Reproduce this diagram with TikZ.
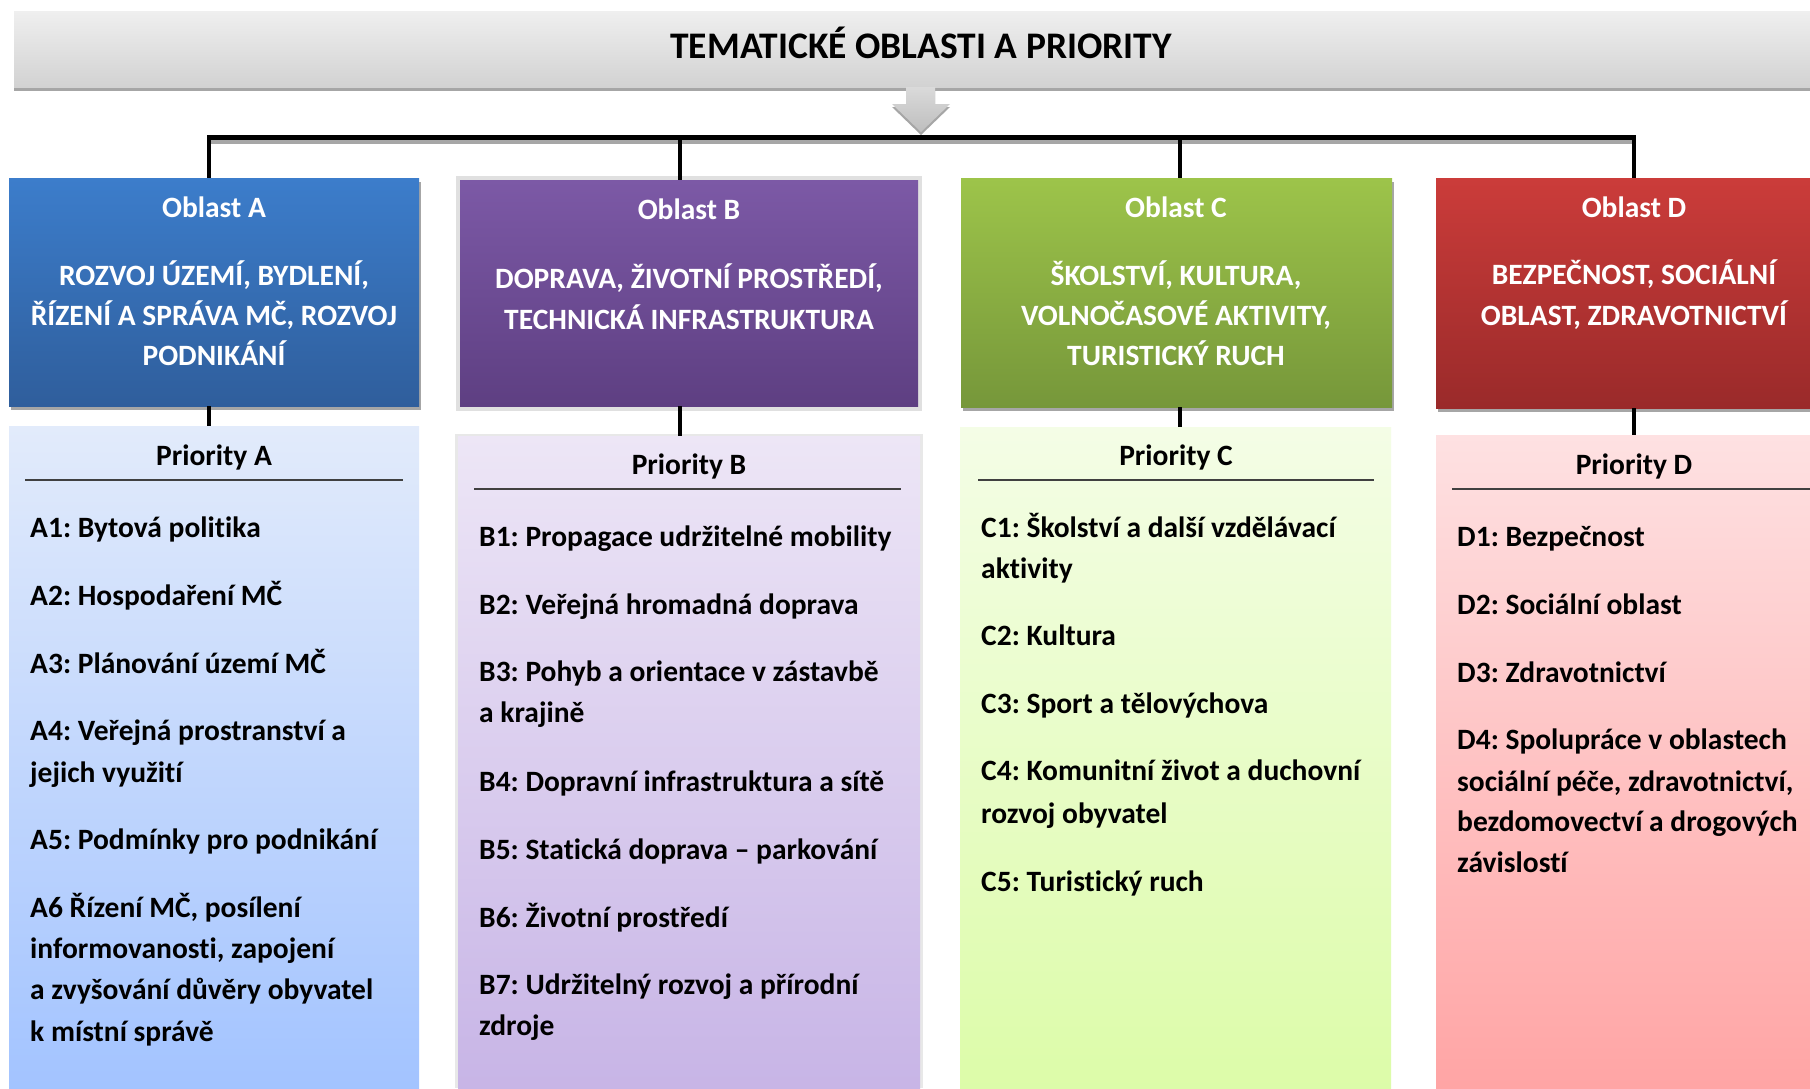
\documentclass[tikz,border=0pt]{standalone}
\usepackage{fontspec}
\setmainfont{Carlito}[Ligatures=NoCommon]
\frenchspacing
\definecolor{hdT}{HTML}{EFEFEF}
\definecolor{hdB}{HTML}{D2D2D2}
\definecolor{shd}{HTML}{A6A6A6}
\definecolor{arrT}{HTML}{DADADA}
\definecolor{arrB}{HTML}{BEBEBE}
\definecolor{oaT}{HTML}{3C7DCB}
\definecolor{oaB}{HTML}{2F5E9C}
\definecolor{obT}{HTML}{7C59A6}
\definecolor{obB}{HTML}{5E3F82}
\definecolor{ocT}{HTML}{9DC44A}
\definecolor{ocB}{HTML}{76973A}
\definecolor{odT}{HTML}{CB3C3A}
\definecolor{odB}{HTML}{9A2A2A}
\definecolor{paT}{HTML}{E2EBFB}
\definecolor{paB}{HTML}{A2C3FF}
\definecolor{pbT}{HTML}{EDE6F6}
\definecolor{pbB}{HTML}{C7B4E6}
\definecolor{pcT}{HTML}{F4FDE6}
\definecolor{pcB}{HTML}{DCFCA8}
\definecolor{pdT}{HTML}{FEE1E2}
\definecolor{pdB}{HTML}{FFA4A4}
\begin{document}
\begin{tikzpicture}[x=1pt,y=-1pt,
  box/.style={rectangle, anchor=north west, inner sep=0pt, outer sep=0pt, draw=none},
  itm/.style={anchor=base west, inner sep=0pt, font=\fontsize{29.5}{35}\selectfont\bfseries},
  hd/.style={anchor=base, inner sep=0pt, font=\fontsize{29.5}{35}\selectfont\bfseries},
  wt/.style={anchor=base, inner sep=0pt, text=white, font=\fontsize{29.5}{35}\selectfont\bfseries},
  conn/.style={line width=4pt, black},
  rulel/.style={line width=1.5pt, black!75}]
\useasboundingbox (0,0) rectangle (1810,1088);
\clip (0,0) rectangle (1810,1088);
\fill[white] (0,0) rectangle (1810,1088);

% header
\fill[shd] (14,87) rectangle (1828,91);
\node[box, minimum width=1814pt, minimum height=76pt, top color=hdT, bottom color=hdB] (hdr) at (14,11) {};
\node[anchor=base, inner sep=0pt, font=\fontsize{37.5}{42}\selectfont\bfseries] (title) at (921,58) {TEMATICKÉ OBLASTI A PRIORITY};

% block arrow
\fill[shd] (906,90) -- (935,90) -- (935,107) -- (950,107) -- (921,135) -- (892,107) -- (906,107) -- cycle;
\shade[top color=arrT, bottom color=arrB] (906,87) -- (935,87) -- (935,104) -- (950,104) -- (921,132) -- (892,104) -- (906,104) -- cycle;

% junctions
\coordinate (jA) at (209,137.5);
\coordinate (jB) at (680,137.5);
\coordinate (jC) at (1180,137.5);
\coordinate (jD) at (1634,137.5);
\draw[line width=4pt, shd] ([yshift=-4.5pt]jA) -- ([yshift=-4.5pt]jD);
\draw[line width=5pt, black] ([xshift=-2pt]jA) -- ([xshift=2pt]jD);

% shadows of boxes
\fill[shd] (11,182) rectangle (421,410);
\fill[black!12] (456,176) rectangle (922,411);
\fill[shd] (963,182) rectangle (1394,411);
\fill[shd] (1438,182) rectangle (1834,412);
\fill[black!9] (455,434) rectangle (923,1088);

% oblast boxes
\node[box, minimum width=410pt, minimum height=228pt, top color=oaT, bottom color=oaB] (oa) at (9,178) {};
\node[box, minimum width=458pt, minimum height=226pt, top color=obT, bottom color=obB] (ob) at (460,180) {};
\node[box, minimum width=431pt, minimum height=229pt, top color=ocT, bottom color=ocB] (oc) at (961,178) {};
\node[box, minimum width=396pt, minimum height=230pt, top color=odT, bottom color=odB] (od) at (1436,178) {};

% priority boxes
\node[box, minimum width=410pt, minimum height=670pt, top color=paT, bottom color=paB] (pa) at (9,426) {};
\node[box, minimum width=462pt, minimum height=660pt, top color=pbT, bottom color=pbB] (pb) at (458,436) {};
\node[box, minimum width=431pt, minimum height=669pt, top color=pcT, bottom color=pcB] (pc) at (960,427) {};
\node[box, minimum width=396pt, minimum height=661pt, top color=pdT, bottom color=pdB] (pd) at (1436,435) {};

% connectors
\draw[conn] (jA) -- (jA |- oa.north);
\draw[conn] (jB) -- (jB |- ob.north);
\draw[conn] (jC) -- (jC |- oc.north);
\draw[conn] (jD) -- (jD |- od.north);
\draw[conn] (oa.south -| jA) -- (pa.north -| jA);
\draw[conn] (ob.south -| jB) -- (pb.north -| jB);
\draw[conn] (oc.south -| jC) -- (pc.north -| jC);
\draw[conn] (od.south -| jD) -- (pd.north -| jD);

% oblast texts
\node[wt] (oaT) at (214,217) {Oblast A};
\node[wt] (oaS1) at (214,285) {ROZVOJ ÚZEMÍ, BYDLENÍ,};
\node[wt] (oaS2) at (214,325) {ŘÍZENÍ A SPRÁVA MČ, ROZVOJ};
\node[wt] (oaS3) at (214,365) {PODNIKÁNÍ};

\node[wt] (obT) at (689,219) {Oblast B};
\node[wt] (obS1) at (689,288) {DOPRAVA, ŽIVOTNÍ PROSTŘEDÍ,};
\node[wt] (obS2) at (689,329) {TECHNICKÁ INFRASTRUKTURA};

\node[wt] (ocT) at (1176,217) {Oblast C};
\node[wt] (ocS1) at (1176,285) {ŠKOLSTVÍ, KULTURA,};
\node[wt] (ocS2) at (1176,325) {VOLNOČASOVÉ AKTIVITY,};
\node[wt] (ocS3) at (1176,365) {TURISTICKÝ RUCH};

\node[wt] (odT) at (1634,217) {Oblast D};
\node[wt] (odS1) at (1634,284) {BEZPEČNOST, SOCIÁLNÍ};
\node[wt] (odS2) at (1634,325) {OBLAST, ZDRAVOTNICTVÍ};

% priority headings and rules
\node[hd] (paH) at (214,465) {Priority A};
\draw[rulel] (25,480) -- (403,480);
\node[hd] (pbH) at (689,474) {Priority B};
\draw[rulel] (474,489) -- (901,489);
\node[hd] (pcH) at (1176,465) {Priority C};
\draw[rulel] (978,480) -- (1374,480);
\node[hd] (pdH) at (1634,474) {Priority D};
\draw[rulel] (1452,489) -- (1816,489);

% items A
\node[itm] (a1) at (30,537) {A1: Bytová politika};
\node[itm] (a2) at (30,605) {A2: Hospodaření MČ};
\node[itm] (a3) at (30,673) {A3: Plánování území MČ};
\node[itm] (a4a) at (30,740) {A4: Veřejná prostranství a};
\node[itm] (a4b) at (30,782) {jejich využití};
\node[itm] (a5) at (30,849) {A5: Podmínky pro podnikání};
\node[itm] (a6a) at (30,917) {A6 Řízení MČ, posílení};
\node[itm] (a6b) at (30,958) {informovanosti, zapojení};
\node[itm] (a6c) at (30,999) {a zvyšování důvěry obyvatel};
\node[itm] (a6d) at (30,1041) {k místní správě};

% items B
\node[itm] (b1) at (479,546) {B1: Propagace udržitelné mobility};
\node[itm] (b2) at (479,614) {B2: Veřejná hromadná doprava};
\node[itm] (b3a) at (479,681) {B3: Pohyb a orientace v zástavbě};
\node[itm] (b3b) at (479,722) {a krajině};
\node[itm] (b4) at (479,791) {B4: Dopravní infrastruktura a sítě};
\node[itm] (b5) at (479,859) {B5: Statická doprava – parkování};
\node[itm] (b6) at (479,927) {B6: Životní prostředí};
\node[itm] (b7a) at (479,994) {B7: Udržitelný rozvoj a přírodní};
\node[itm] (b7b) at (479,1035) {zdroje};

% items C
\node[itm] (c1a) at (981,537) {C1: Školství a další vzdělávací};
\node[itm] (c1b) at (981,578) {aktivity};
\node[itm] (c2) at (981,645) {C2: Kultura};
\node[itm] (c3) at (981,713) {C3: Sport a tělovýchova};
\node[itm] (c4a) at (981,780) {C4: Komunitní život a duchovní};
\node[itm] (c4b) at (981,823) {rozvoj obyvatel};
\node[itm] (c5) at (981,891) {C5: Turistický ruch};

% items D
\node[itm] (d1) at (1457,546) {D1: Bezpečnost};
\node[itm] (d2) at (1457,614) {D2: Sociální oblast};
\node[itm] (d3) at (1457,682) {D3: Zdravotnictví};
\node[itm] (d4a) at (1457,749) {D4: Spolupráce v oblastech};
\node[itm] (d4b) at (1457,791) {sociální péče, zdravotnictví,};
\node[itm] (d4c) at (1457,831) {bezdomovectví a drogových};
\node[itm] (d4d) at (1457,872) {závislostí};
\end{tikzpicture}
\end{document}
